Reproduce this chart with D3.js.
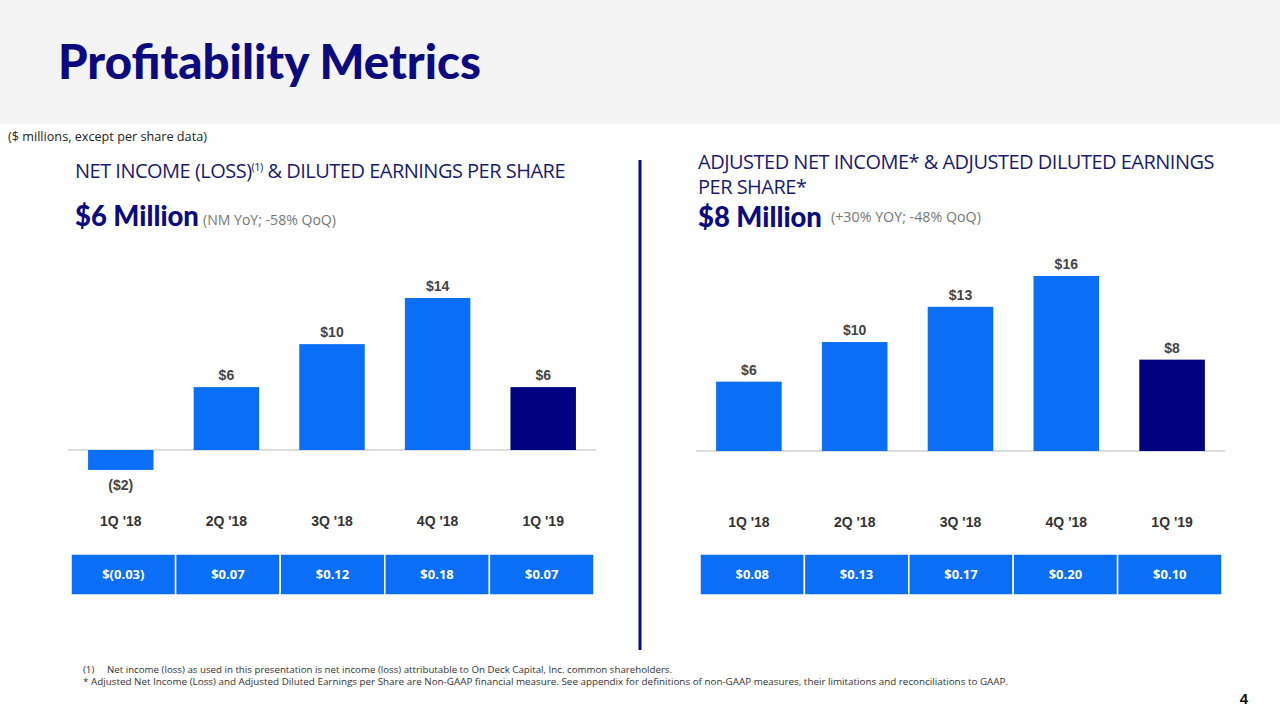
<!DOCTYPE html>
<html><head><meta charset="utf-8">
<script src="https://cdn.jsdelivr.net/npm/d3@7"></script>
<style>html,body{margin:0;padding:0;background:#fff;}svg{display:block;}</style>
</head><body>
<svg id="c" width="1280" height="720"></svg>
<script>
// ---- data ----
const quarters = ["1Q '18", "2Q '18", "3Q '18", "4Q '18", "1Q '19"];
const netIncome = [-1.9, 6.0, 10.1, 14.5, 6.0];
const netIncomeLabels = ["($2)", "$6", "$10", "$14", "$6"];
const dilutedEPS = ["$(0.03)", "$0.07", "$0.12", "$0.18", "$0.07"];
const adjNetIncome = [6.3, 9.9, 13.1, 15.9, 8.3];
const adjNetIncomeLabels = ["$6", "$10", "$13", "$16", "$8"];
const adjDilutedEPS = ["$0.08", "$0.13", "$0.17", "$0.20", "$0.10"];

const svg = d3.select("#c");
const NAVY = "#0b0a7e", BLUE = "#0a6ff6", DARK = "#020280";
const GEO = "'Open Sans', 'Noto Sans', sans-serif";
const ARIAL = "'Liberation Sans', Arial, sans-serif";

function fit(sel, w) {
  const n = sel.node(); const cur = n.getComputedTextLength();
  const fs = parseFloat(sel.attr("font-size"));
  sel.attr("font-size", (fs * w / cur).toFixed(2));
}

// header
svg.append("rect").attr("x",0).attr("y",0).attr("width",1280).attr("height",124).attr("fill","#f4f4f4");
fit(svg.append("text").attr("x",58).attr("y",79).attr("font-family","'Lato', 'Open Sans', sans-serif").attr("font-weight",900)
  .attr("font-size",44).attr("fill",NAVY).text("Profitability Metrics"), 423);
fit(svg.append("text").attr("x",8).attr("y",141).attr("font-family",GEO).attr("font-size",11).attr("fill","#222")
  .text("($ millions, except per share data)"), 199);

// divider
svg.append("line").attr("x1",640).attr("x2",640).attr("y1",160).attr("y2",650).attr("stroke",NAVY).attr("stroke-width",3);

// headings left
const h1 = svg.append("text").attr("x",75).attr("y",178).attr("font-family",GEO).attr("font-size",17).attr("fill","#1b1a6e").attr("letter-spacing","-0.5");
h1.append("tspan").text("NET INCOME (LOSS)");
h1.append("tspan").attr("font-size",11).attr("dy",-7).text("(1)");
h1.append("tspan").attr("dy",7).text(" & DILUTED EARNINGS PER SHARE");
fit(h1, 488);
const m1 = svg.append("text").attr("x",75).attr("y",226).attr("font-family","'Lato', sans-serif").attr("font-weight",900).attr("font-size",26).attr("fill",NAVY).text("$6 Million");
fit(m1, 124);
fit(svg.append("text").attr("x",203).attr("y",225).attr("font-family",GEO).attr("font-size",12).attr("fill","#777").text("(NM YoY; -58% QoQ)"), 133);

// headings right (one text, two lines)
const h2 = svg.append("text").attr("x",698).attr("y",169).attr("font-family",GEO).attr("fill","#1b1a6e").attr("letter-spacing","-0.5");
const l1 = h2.append("tspan").attr("x",698).attr("font-size",17).text("ADJUSTED NET INCOME* & ADJUSTED DILUTED EARNINGS");
fit(l1, 512);
h2.append("tspan").attr("x",698).attr("dy",25).attr("font-size",l1.attr("font-size")).text("PER SHARE*");
fit(svg.append("text").attr("x",698).attr("y",227).attr("font-family","'Lato', sans-serif").attr("font-weight",900).attr("font-size",26).attr("fill",NAVY).text("$8 Million"), 124);
fit(svg.append("text").attr("x",831).attr("y",222).attr("font-family",GEO).attr("font-size",12).attr("fill","#777").text("(+30% YOY; -48% QoQ)"), 150);

function panel(cfg) {
  const x = d3.scaleBand().domain(quarters).range(cfg.xr).paddingInner(0.38).paddingOuter(0.19);
  const y = d3.scaleLinear().domain(cfg.yd).range(cfg.yr);
  const g = svg.append("g");
  g.append("line").attr("x1",cfg.xr[0]).attr("x2",cfg.xr[1]).attr("y1",y(0)).attr("y2",y(0)).attr("stroke","#bbb").attr("stroke-width",1.2);
  g.selectAll("rect.bar").data(cfg.values).join("rect").attr("class","bar")
    .attr("x",(d,i)=>x(quarters[i])).attr("width",x.bandwidth())
    .attr("y",d=>y(Math.max(0,d))).attr("height",d=>Math.abs(y(d)-y(0)))
    .attr("fill",(d,i)=> i===quarters.length-1 ? DARK : BLUE);
  g.selectAll("text.val").data(cfg.values).join("text").attr("class","val")
    .attr("x",(d,i)=>x(quarters[i])+x.bandwidth()/2)
    .attr("y",d=> d>=0 ? y(d)-7 : y(d)+20)
    .attr("text-anchor","middle").attr("font-family",ARIAL).attr("font-weight","bold").attr("font-size",14).attr("fill","#444")
    .text((d,i)=>cfg.labels[i]);
  const ax = g.append("g").attr("transform",`translate(0,${cfg.axisY})`).call(d3.axisBottom(x).tickSize(0).tickPadding(0));
  ax.select(".domain").remove();
  ax.selectAll("text").attr("font-family",ARIAL).attr("font-weight","bold").attr("font-size",14).attr("fill","#333").attr("dy","0");
  // EPS table
  const t = d3.scaleBand().domain(quarters).range(cfg.tr);
  const cells = g.selectAll("g.cell").data(cfg.eps).join("g").attr("class","cell");
  cells.append("rect").attr("x",(d,i)=>t(quarters[i])).attr("y",554).attr("width",t.bandwidth()).attr("height",41)
    .attr("fill",BLUE).attr("stroke","#fff").attr("stroke-width",1.5);
  cells.append("text").attr("x",(d,i)=>t(quarters[i])+t.bandwidth()/2).attr("y",579).attr("text-anchor","middle")
    .attr("font-family",GEO).attr("font-weight","bold").attr("font-size",13).attr("fill","#fff").text(d=>d);
}
panel({xr:[68,596], yd:[0,14.5], yr:[450,298], values:netIncome, labels:netIncomeLabels, eps:dilutedEPS, axisY:526, tr:[71,594]});
panel({xr:[696,1225], yd:[0,15.9], yr:[451,276], values:adjNetIncome, labels:adjNetIncomeLabels, eps:adjDilutedEPS, axisY:527, tr:[700,1222]});

// footnotes
fit(svg.append("text").attr("x",83).attr("y",673).attr("font-family",GEO).attr("font-size",8.5).attr("fill","#333")
  .attr("xml:space","preserve").text("(1)     Net income (loss) as used in this presentation is net income (loss) attributable to On Deck Capital, Inc. common shareholders."), 590);
fit(svg.append("text").attr("x",83).attr("y",685).attr("font-family",GEO).attr("font-size",8.5).attr("fill","#333")
  .text("* Adjusted Net Income (Loss) and Adjusted Diluted Earnings per Share are Non-GAAP financial measure.  See appendix for definitions of non-GAAP measures, their limitations and reconciliations to GAAP."), 927);
svg.append("text").attr("x",1248).attr("y",704).attr("text-anchor","end").attr("font-family",ARIAL).attr("font-weight","bold").attr("font-size",15).attr("fill","#111").text("4");
</script>
</body></html>
